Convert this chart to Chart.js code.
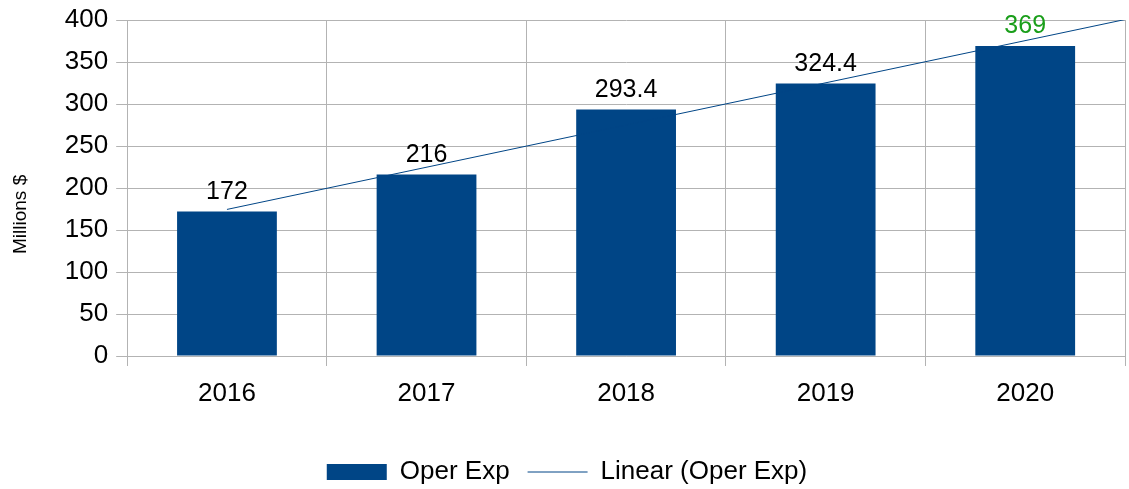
<!DOCTYPE html>
<html lang="en">
<head>
  <meta charset="UTF-8" />
  <title>Oper Exp</title>
  <style>
    * { margin: 0; padding: 0; box-sizing: border-box; }
    body { background: #fff; width: 1129px; height: 489px; overflow: hidden; }
    #wrap { position: relative; width: 1129px; height: 489px; }
  </style>
</head>
<body>
  <div id="wrap"><canvas id="chart"></canvas></div>

  <script src="https://cdn.jsdelivr.net/npm/chart.js"></script>
  <script>
    const years = ['2016', '2017', '2018', '2019', '2020'];
    const operExp = [172, 216, 293.4, 324.4, 369];
    const yTicks = [0, 50, 100, 150, 200, 250, 300, 350, 400];
    const labelColors = ['#000', '#000', '#000', '#000', '#1a9e1a'];

    const FONT = '"Liberation Sans", Arial, sans-serif';

    // least squares trend over the bars, drawn from first bar to the right edge
    function trend(values) {
      const n = values.length;
      const mx = (n - 1) / 2;
      const my = values.reduce((a, b) => a + b, 0) / n;
      let num = 0, den = 0;
      values.forEach((v, i) => { num += (i - mx) * (v - my); den += (i - mx) * (i - mx); });
      const slope = num / den;
      const b = my - slope * mx;
      return [{ x: 0, y: b }, { x: n - 0.5, y: b + slope * (n - 0.5) }];
    }

    const barLabels = {
      id: 'barLabels',
      afterDatasetsDraw(chart) {
        const ctx = chart.ctx;
        const meta = chart.getDatasetMeta(0);
        ctx.save();
        ctx.font = '25px ' + FONT;
        ctx.textAlign = 'center';
        ctx.textBaseline = 'alphabetic';
        meta.data.forEach((bar, i) => {
          ctx.fillStyle = labelColors[i];
          ctx.fillText(String(operExp[i]), bar.x, bar.y - 13);
        });
        ctx.restore();
      }
    };

    new Chart(document.getElementById('chart'), {
      type: 'bar',
      data: {
        labels: years,
        datasets: [{
          label: 'Oper Exp',
          data: operExp,
          xAxisID: 'x',
          backgroundColor: '#004586',
          barPercentage: 0.5,
          categoryPercentage: 1,
          grouped: false,
          order: 2
        }, {
          type: 'line',
          label: 'Linear (Oper Exp)',
          data: trend(operExp),
          xAxisID: 'x2',
          borderColor: '#004586',
          borderWidth: 1,
          pointRadius: 0,
          fill: false,
          order: 1
        }]
      },
      options: {
        responsive: true,
        maintainAspectRatio: false,
        animation: false,
        layout: { padding: { left: 9, right: 4, top: 20, bottom: -6 } },
        plugins: {
          legend: {
            position: 'bottom',
            labels: {
              usePointStyle: true,
              pointStyleWidth: 60,
              boxHeight: 16,
              padding: 18,
              color: '#000',
              font: { family: FONT, size: 26 },
              generateLabels(chart) {
                return chart.data.datasets.map((ds, i) => ({
                  text: ds.label,
                  datasetIndex: i,
                  fillStyle: ds.type === 'line' ? 'transparent' : ds.backgroundColor,
                  strokeStyle: ds.type === 'line' ? ds.borderColor : ds.backgroundColor,
                  lineWidth: ds.type === 'line' ? 1 : 0,
                  pointStyle: ds.type === 'line' ? 'line' : 'rect'
                }));
              }
            }
          },
          tooltip: { enabled: false }
        },
        scales: {
          x: {
            grid: { color: '#b3b3b3', offset: true, tickLength: 10 },
            border: { color: '#b3b3b3' },
            ticks: {
              color: '#000',
              padding: 12,
              font: { family: FONT, size: 26 }
            },
            afterFit(axis) { axis.height = 85; }
          },
          x2: {
            type: 'linear',
            display: false,
            offset: false,
            grid: { offset: false },
            min: -0.5,
            max: years.length - 0.5
          },
          y: {
            min: 0,
            max: 400,
            afterBuildTicks(axis) { axis.ticks = yTicks.map(v => ({ value: v })); },
            afterFit(axis) { axis.paddingTop = 0; },
            grid: { color: '#b3b3b3', tickLength: 11 },
            border: { color: '#b3b3b3' },
            title: {
              display: true,
              // trailing spaces push the title below the axis centre, as in the original
              text: 'Millions $' + '\u00a0'.repeat(10),
              color: '#000',
              padding: { top: 0, bottom: 25 },
              font: { family: FONT, size: 19 }
            },
            ticks: {
              color: '#000',
              padding: 8,
              font: { family: FONT, size: 26 }
            }
          }
        }
      },
      plugins: [barLabels]
    });
  </script>
</body>
</html>
